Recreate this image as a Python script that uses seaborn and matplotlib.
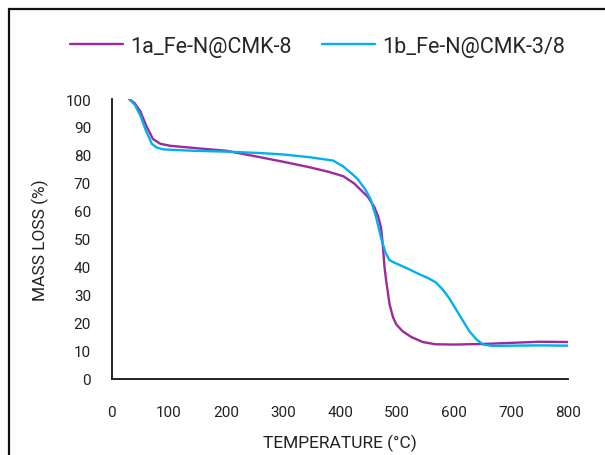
import pandas as pd
import matplotlib
matplotlib.use('Agg')
import matplotlib.pyplot as plt
import seaborn as sns
from matplotlib.patches import Rectangle

sns.set_theme(style='white')
plt.rcParams['font.family'] = ['Roboto', 'DejaVu Sans']

temp_a = [30, 40, 50, 60, 72, 85, 102, 150, 201, 260, 300, 347, 380, 406, 425, 440,
          449, 460, 467, 472, 475, 478, 481, 487, 493, 499, 510, 525, 545, 567, 600,
          650, 700, 750, 800]
mass_a = [100, 98.5, 95.5, 90.5, 85.7, 84.0, 83.3, 82.4, 81.5, 79.2, 77.6, 75.6, 74.0,
          72.4, 69.8, 66.8, 65.0, 61.5, 58.0, 54.0, 47.9, 40.0, 35.0, 26.6, 22.0,
          19.4, 17.0, 15.0, 13.2, 12.4, 12.3, 12.5, 12.9, 13.3, 13.2]

temp_b = [30, 40, 50, 60, 70, 78, 90, 143, 200, 260, 300, 347, 388, 405, 418, 431,
          445, 454, 463, 473, 480, 487, 499, 518, 538, 555, 568, 580, 591, 600, 609,
          618, 627, 640, 651, 668, 700, 750, 800]
mass_b = [100, 98.0, 94.0, 88.5, 84.0, 82.7, 82.0, 81.5, 81.2, 80.7, 80.2, 79.2, 78.0,
          76.0, 73.8, 71.4, 67.5, 64.0, 58.0, 49.6, 45.0, 42.4, 41.2, 39.5, 37.5,
          36.0, 34.5, 32.0, 29.0, 26.0, 23.0, 20.0, 17.0, 14.0, 12.3, 11.8, 11.9,
          12.0, 11.9]

nombres = ['1a_Fe-N@CMK-8', '1b_Fe-N@CMK-3/8']
colores = ['#9C2A9C', '#00B0F0']

fig = plt.figure(figsize=(6.05, 4.56), dpi=100)
ax = fig.add_axes([0.185, 0.1667, 0.754, 0.614])

sns.lineplot(x=temp_a, y=mass_a, ax=ax, color=colores[0], linewidth=1.7, label=nombres[0])
sns.lineplot(x=temp_b, y=mass_b, ax=ax, color=colores[1], linewidth=1.7, label=nombres[1])

ax.set_xlim(0, 800)
ax.set_ylim(0, 100)
ax.set_xticks(range(0, 801, 100))
ax.set_yticks(range(0, 101, 10))
ax.tick_params(axis='both', length=0, labelsize=11, colors='#222222')
ax.tick_params(axis='x', pad=19)
ax.tick_params(axis='y', pad=15)
for lado in ['top', 'right']:
    ax.spines[lado].set_visible(False)
for lado in ['left', 'bottom']:
    ax.spines[lado].set_color('#111111')
    ax.spines[lado].set_linewidth(1.3)

ax.set_xlabel('TEMPERATURE (°C)', fontsize=12.5, color='#222222', labelpad=10)
ax.set_ylabel('MASS LOSS (%)', fontsize=12.5, color='#222222', labelpad=12)

leg = ax.legend(loc='center', bbox_to_anchor=(0.45, 1.189), ncol=2, frameon=False,
                prop={'family': ['Roboto', 'DejaVu Sans'], 'size': 15.5},
                handlelength=2.5, columnspacing=1.4, handletextpad=0.3)

# Marco exterior del grafico
fig.patches.append(Rectangle((9 / 605, -0.2), 2, 1.2 - 10 / 456,
                             transform=fig.transFigure, fill=False,
                             edgecolor='#111111', linewidth=1.6))

fig.savefig('out.png', dpi=100)
